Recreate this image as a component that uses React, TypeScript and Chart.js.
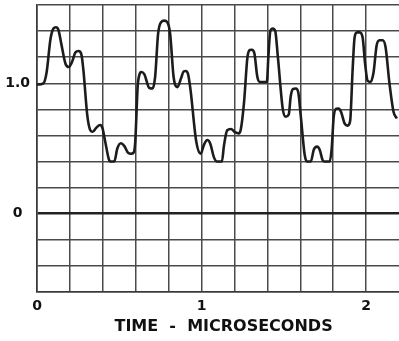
import React, { useEffect, useRef } from "react";
import { Chart, registerables } from "chart.js";

Chart.register(...registerables);

// Time in microseconds
const timeUs: number[] = [
  0, 0.039, 0.058, 0.082, 0.1, 0.115, 0.13, 0.148, 0.173, 0.193,
  0.215, 0.233, 0.253, 0.27, 0.282, 0.306, 0.324, 0.338, 0.361, 0.383,
  0.397, 0.415, 0.436, 0.445, 0.47, 0.488, 0.51, 0.53, 0.555, 0.571,
  0.588, 0.597, 0.612, 0.621, 0.633, 0.652, 0.682, 0.702, 0.718, 0.736,
  0.755, 0.773, 0.791, 0.809, 0.83, 0.853, 0.876, 0.891, 0.904, 0.918,
  0.933, 0.967, 0.995, 1.015, 1.035, 1.052, 1.076, 1.094, 1.124, 1.136,
  1.156, 1.179, 1.203, 1.227, 1.239, 1.258, 1.279, 1.294, 1.306, 1.321,
  1.339, 1.355, 1.397, 1.406, 1.418, 1.433, 1.448, 1.464, 1.494, 1.512,
  1.53, 1.542, 1.555, 1.573, 1.588, 1.603, 1.627, 1.642, 1.664, 1.682,
  1.702, 1.718, 1.736, 1.748, 1.779, 1.791, 1.803, 1.818, 1.833, 1.848,
  1.87, 1.888, 1.903, 1.918, 1.93, 1.945, 1.961, 1.979, 1.994, 2.009,
  2.027, 2.045, 2.064, 2.082, 2.1, 2.118, 2.142, 2.167, 2.187,
];

// Relative amplitude
const amplitude: number[] = [
  0.99, 1.0, 1.08, 1.34, 1.42, 1.43, 1.41, 1.3, 1.15, 1.125,
  1.17, 1.235, 1.247, 1.22, 1.1, 0.75, 0.64, 0.628, 0.66, 0.68,
  0.66, 0.55, 0.42, 0.4, 0.4, 0.5, 0.54, 0.52, 0.465, 0.46,
  0.47, 0.55, 0.98, 1.06, 1.086, 1.07, 0.965, 0.96, 1.05, 1.38,
  1.47, 1.48, 1.47, 1.38, 1.05, 0.97, 1.04, 1.09, 1.094, 1.07,
  0.95, 0.56, 0.46, 0.53, 0.565, 0.54, 0.43, 0.4, 0.4, 0.52,
  0.64, 0.65, 0.625, 0.616, 0.65, 0.85, 1.2, 1.255, 1.257, 1.23,
  1.05, 1.01, 1.01, 1.2, 1.4, 1.42, 1.4, 1.2, 0.8, 0.743,
  0.76, 0.9, 0.955, 0.96, 0.93, 0.75, 0.45, 0.4, 0.4, 0.49,
  0.514, 0.49, 0.41, 0.4, 0.4, 0.5, 0.74, 0.805, 0.807, 0.78,
  0.69, 0.675, 0.71, 1.1, 1.35, 1.39, 1.39, 1.35, 1.15, 1.02,
  1.01, 1.08, 1.29, 1.33, 1.33, 1.28, 1.0, 0.78, 0.73,
];

const xLabelValues: number[] = [0, 1, 2];
const xLabelTexts: string[] = ["0", "1", "2"];
const yLabelValues: number[] = [0, 1];
const yLabelTexts: string[] = ["0", "1.0"];
const xTitle = "  TIME  -  MICROSECONDS";

const near = (a: number, b: number) => Math.abs(a - b) < 1e-6;

export default function App() {
  const canvasRef = useRef<HTMLCanvasElement | null>(null);

  useEffect(() => {
    const canvas = canvasRef.current;
    if (!canvas) return;
    const points = timeUs.map((t, i) => ({ x: t, y: amplitude[i] }));
    const font = { family: "'DejaVu Sans', sans-serif", weight: "bold" as const, size: 14 };
    const chart = new Chart(canvas, {
      type: "line",
      data: {
        datasets: [
          {
            data: points,
            borderColor: "#1c1c1c",
            borderWidth: 2.6,
            pointRadius: 0,
            cubicInterpolationMode: "monotone",
            fill: false,
          },
        ],
      },
      options: {
        animation: false,
        responsive: false,
        devicePixelRatio: 1,
        layout: { padding: { top: 5, left: 0, right: 0, bottom: 0 } },
        plugins: { legend: { display: false }, tooltip: { enabled: false } },
        scales: {
          x: {
            type: "linear",
            min: 0,
            max: 2.2,
            afterFit: (scale: any) => {
              scale.height = 49;
              scale.paddingLeft = 0;
              scale.paddingRight = 0;
            },
            border: { display: true, color: "#3a3a3a", width: 1.6 },
            grid: {
              drawTicks: false,
              color: (ctx: any) =>
                ctx.tick && ctx.tick.value > 2.19 ? "rgba(0,0,0,0)" : "#4a4a4a",
              lineWidth: 1.5,
            },
            ticks: {
              stepSize: 0.2,
              autoSkip: false,
              maxRotation: 0,
              padding: 6,
              color: "#111",
              font,
              callback: (v: any) => {
                const idx = xLabelValues.findIndex((lv) => near(lv, Number(v)));
                return idx >= 0 ? xLabelTexts[idx] : "";
              },
            },
            title: {
              display: true,
              text: xTitle,
              color: "#111",
              font: { family: "'DejaVu Sans', sans-serif", weight: "bold", size: 16 },
              padding: { top: 0, bottom: 5 },
            },
          },
          y: {
            type: "linear",
            min: -0.6,
            max: 1.6,
            afterFit: (scale: any) => {
              scale.width = 37;
              scale.paddingTop = 0;
              scale.paddingBottom = 0;
            },
            border: { display: true, color: "#3a3a3a", width: 1.6 },
            grid: {
              drawTicks: false,
              color: (ctx: any) =>
                ctx.tick && near(ctx.tick.value, 0) ? "#222" : "#4a4a4a",
              lineWidth: (ctx: any) =>
                ctx.tick && near(ctx.tick.value, 0) ? 2.6 : 1.5,
            },
            ticks: {
              stepSize: 0.2,
              autoSkip: false,
              padding: 7,
              crossAlign: "center",
              color: "#111",
              font,
              callback: (v: any) => {
                const idx = yLabelValues.findIndex((lv) => near(lv, Number(v)));
                return idx >= 0 ? yLabelTexts[idx] : "";
              },
            },
          },
        },
      },
    });
    return () => chart.destroy();
  }, []);

  return (
    <div style={{ position: "fixed", left: 0, top: 0, width: 399, height: 341, background: "#fff" }}>
      <canvas ref={canvasRef} width={399} height={341} style={{ display: "block" }} />
    </div>
  );
}
